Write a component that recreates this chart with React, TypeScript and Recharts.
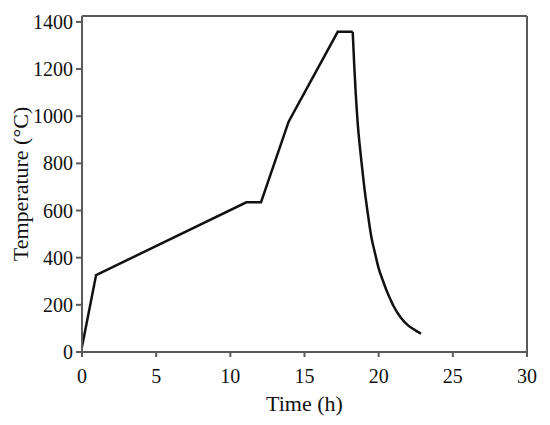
import { LineChart, Line, XAxis, YAxis, Label } from 'recharts';

// heating ramps and holds
const heatTimes = [0, 0.95, 11.08, 12.07, 13.93, 17.24, 18.25];
const heatTemps = [22, 326, 635, 635, 977, 1358, 1358];

// furnace cooling after the top hold
const coolTimes = [
  18.25, 18.35, 18.45, 18.6, 18.8, 19.0, 19.25, 19.5, 19.75,
  20.0, 20.3, 20.6, 20.8, 21.0, 21.5, 22.0, 22.4, 22.85,
];
const coolTemps = [
  1358, 1220, 1100, 960, 830, 715, 595, 490, 420,
  355, 300, 250, 222, 195, 145, 112, 95, 78,
];

const xTicks = [0, 5, 10, 15, 20, 25, 30];
const yTicks = [0, 200, 400, 600, 800, 1000, 1200, 1400];

const heatData = heatTimes.map((t, i) => ({ t, temp: heatTemps[i] }));
const coolData = coolTimes.map((t, i) => ({ t, temp: coolTemps[i] }));

const FRAME = '#5a5a5a';
const FONT = '"Liberation Serif", "Times New Roman", serif';
const tickStyle = { fill: '#111', fontSize: 20, fontFamily: FONT };

export default function App() {
  return (
    <div style={{ position: 'absolute', left: 0, top: 0, background: '#fff', fontFamily: FONT }}>
      <LineChart
        width={550}
        height={425}
        margin={{ top: 15, right: 22, bottom: 0, left: 0 }}
        style={{ fontFamily: FONT }}
      >
        <XAxis
          dataKey="t"
          type="number"
          domain={[0, 30]}
          ticks={xTicks}
          height={73}
          tickSize={5}
          tickMargin={12}
          tick={tickStyle}
          axisLine={{ stroke: FRAME, strokeWidth: 2 }}
          tickLine={{ stroke: FRAME, strokeWidth: 2 }}
        >
          <Label
            value="Time (h)"
            position="insideBottom"
            offset={14}
            style={{ fill: '#111', fontSize: 22, fontFamily: FONT }}
          />
        </XAxis>
        <XAxis
          xAxisId="top"
          orientation="top"
          dataKey="t"
          type="number"
          domain={[0, 30]}
          ticks={xTicks}
          height={1}
          tickSize={5}
          tick={false}
          axisLine={{ stroke: FRAME, strokeWidth: 2 }}
          tickLine={{ stroke: FRAME, strokeWidth: 2 }}
        />
        <YAxis
          type="number"
          domain={[0, 1425]}
          ticks={yTicks}
          width={82}
          tickSize={6}
          tickMargin={3}
          tick={tickStyle}
          axisLine={{ stroke: FRAME, strokeWidth: 2 }}
          tickLine={{ stroke: FRAME, strokeWidth: 2 }}
        >
          <Label
            value="Temperature (°C)"
            angle={-90}
            position="insideLeft"
            offset={20}
            style={{ fill: '#111', fontSize: 22, fontFamily: FONT, textAnchor: 'middle' }}
          />
        </YAxis>
        <YAxis
          yAxisId="right"
          orientation="right"
          type="number"
          domain={[0, 1425]}
          ticks={yTicks}
          width={1}
          tickSize={6}
          tick={false}
          axisLine={{ stroke: FRAME, strokeWidth: 2 }}
          tickLine={{ stroke: FRAME, strokeWidth: 2 }}
        />
        <Line
          data={heatData}
          dataKey="temp"
          type="linear"
          stroke="#111"
          strokeWidth={2.5}
          dot={false}
          isAnimationActive={false}
        />
        <Line
          data={coolData}
          dataKey="temp"
          type="monotone"
          stroke="#111"
          strokeWidth={2.5}
          dot={false}
          isAnimationActive={false}
        />
      </LineChart>
    </div>
  );
}
